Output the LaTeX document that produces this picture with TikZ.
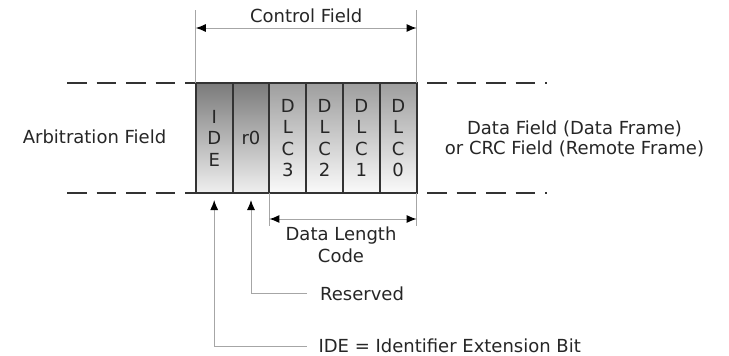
\documentclass[tikz,border=0pt]{standalone}
\usepackage{fontspec}
\setmainfont{DejaVu Sans}
\usetikzlibrary{positioning,arrows.meta}

\begin{document}
\begin{tikzpicture}[x=1pt,y=-1pt,
		font=\fontsize{18}{21.5}\selectfont,text=black!85,
		bit node/.style={rectangle,draw=black!80,line width=2pt,outer sep=0pt,inner sep=0pt,
			minimum width=36.8pt,minimum height=110pt,align=center},
		dark bit/.style={bit node,top color=black!52,bottom color=black!6},
		light bit/.style={bit node,top color=black!38,bottom color=black!2},
		frame line/.style={draw=black!80,line width=2pt,dash pattern=on 19.5pt off 10pt},
		guide/.style={draw=black!35,line width=1pt},
		dim arrow/.style={guide,{Latex[length=10pt,width=8pt,color=black]}-{Latex[length=10pt,width=8pt,color=black]}},
		pointer/.style={guide,-{Latex[length=10pt,width=8pt,color=black]},shorten >=7pt},
		label text/.style={inner sep=0pt,align=center}]
		
		\useasboundingbox (0,0) rectangle (729,356);
		
		% the control field bits
		\node[dark bit] (ide) at (214.2,138) {I\\D\\E};
		\node[dark bit] (r0) [right=0pt of ide] {r0};
		\node[light bit] (dlc3) [right=0pt of r0] {D\\L\\C\\3};
		\node[light bit] (dlc2) [right=0pt of dlc3] {D\\L\\C\\2};
		\node[light bit] (dlc1) [right=0pt of dlc2] {D\\L\\C\\1};
		\node[light bit] (dlc0) [right=0pt of dlc1] {D\\L\\C\\0};
		
		% neighbouring fields
		\coordinate (arbtop) at (67,83);
		\coordinate (arbbot) at (67,193);
		\coordinate (datatop) at (546.5,83);
		\coordinate (databot) at (546.5,193);
		\draw[frame line] (arbtop) -- (ide.north west);
		\draw[frame line] (arbbot) -- (ide.south west);
		\draw[frame line] ([xshift=10.5pt]dlc0.north east) -- (datatop);
		\draw[frame line] ([xshift=10.5pt]dlc0.south east) -- (databot);
		
		\node[label text] (arb) at (94.5,136.5) {Arbitration Field};
		\node[label text,font=\fontsize{18}{19.5}\selectfont] (data) at (574.5,139) {Data Field (Data Frame)\\or CRC Field (Remote Frame)};
		
		% control field span
		\coordinate (ctop) at (0,10);
		\coordinate (carrow) at (0,28);
		\draw[guide] (ide.north west) -- (ide.north west |- ctop);
		\draw[guide] (dlc0.north east) -- (dlc0.north east |- ctop);
		\draw[dim arrow] (ide.north west |- carrow) -- node[above=5pt,inner sep=0pt] (ctrl) {Control Field} (dlc0.north east |- carrow);
		
		% data length code span
		\coordinate (dbot) at (0,226);
		\coordinate (darrow) at (0,219);
		\draw[guide] (dlc3.south west) -- (dlc3.south west |- dbot);
		\draw[guide] (dlc0.south east) -- (dlc0.south east |- dbot);
		\draw[dim arrow] (dlc3.south west |- darrow) -- (dlc0.south east |- darrow);
		\node[label text] (dlc) at (341,245) {Data Length\\Code};
		
		% pointers
		\node[label text,anchor=west] (res) at (320,293.5) {Reserved};
		\node[label text,anchor=west] (idetxt) at (318.3,346) {IDE = Identifier Extension Bit};
		\draw[pointer] ([xshift=-13pt]res.west) -| (r0.south);
		\draw[pointer] ([xshift=-11.5pt]idetxt.west) -| (ide.south);
		\end{tikzpicture}
\end{document}
